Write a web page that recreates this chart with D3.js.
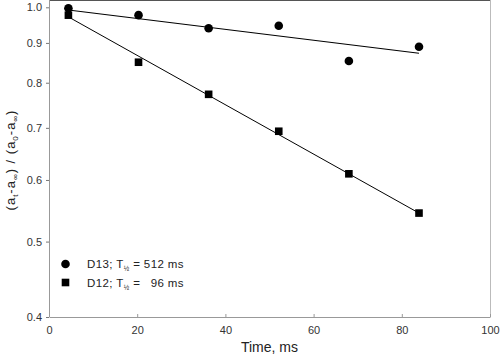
<!DOCTYPE html>
<html><head><meta charset="utf-8">
<script src="https://cdn.jsdelivr.net/npm/d3@7"></script>
<style>
html,body{margin:0;padding:0;background:#fff;}
svg{display:block;font-family:"Liberation Sans",Arial,sans-serif;}
</style></head>
<body>
<svg id="chart" width="500" height="355"></svg>
<script>
// Data
const times = [4.4, 20.3, 36.2, 52.1, 68.0, 83.9];
const d13 = [0.997, 0.977, 0.940, 0.947, 0.853, 0.890];
const d12 = [0.977, 0.850, 0.773, 0.693, 0.611, 0.544];
const fitTimes = [4.4, 83.9];
const d13Fit = [0.992, 0.873];
const d12Fit = [0.972, 0.544];
const xTicks = [0, 20, 40, 60, 80, 100];
const yTicks = [0.4, 0.5, 0.6, 0.7, 0.8, 0.9, 1.0];
const legendLabels = [
  {name: "D13; T", val: "512 ms"},
  {name: "D12; T", val: "96 ms"}
];

const svg = d3.select("#chart");
const L = 49, R = 490, T = 0, B = 317;
const x = d3.scaleLinear().domain([0, 100]).range([L, R]);
const y = d3.scaleLog().domain([0.4, 1.0]).range([B, 7.3]);

// frame
svg.append("line").attr("x1", L).attr("x2", R).attr("y1", 0.5).attr("y2", 0.5).attr("stroke", "#555").attr("stroke-width", 1);
svg.append("line").attr("x1", R + 0.5).attr("x2", R + 0.5).attr("y1", 0).attr("y2", B).attr("stroke", "#bbb").attr("stroke-width", 1);

// x axis (ticks inside)
const xAxis = d3.axisBottom(x).tickValues(xTicks).tickFormat(d3.format("d")).tickSizeInner(-3).tickSizeOuter(0).tickPadding(9);
const gx = svg.append("g").attr("transform", `translate(0,${B})`).call(xAxis);
gx.select(".domain").attr("stroke", "#999");
gx.selectAll(".tick line").attr("stroke", "#999");
gx.selectAll("text").attr("font-size", 11).attr("fill", "#333").attr("font-family", "Liberation Sans, Arial, sans-serif");

// y axis (ticks outside)
const yAxis = d3.axisLeft(y).tickValues(yTicks).tickFormat(d3.format(".1f")).tickSizeInner(3).tickSizeOuter(0).tickPadding(4);
const gy = svg.append("g").attr("transform", `translate(${L},0)`).call(yAxis);
gy.select(".domain").attr("stroke", "#999").attr("d", `M0.5,0V${B}`);
gy.selectAll(".tick line").attr("stroke", "#777");
gy.selectAll("text").attr("font-size", 11).attr("fill", "#333").attr("font-family", "Liberation Sans, Arial, sans-serif");

// fit lines
const line = d3.line().x(d => x(d[0])).y(d => y(d[1]));
svg.append("path").datum(fitTimes.map((t, i) => [t, d13Fit[i]]))
  .attr("d", line).attr("fill", "none").attr("stroke", "#000").attr("stroke-width", 1.1);
svg.append("path").datum(fitTimes.map((t, i) => [t, d12Fit[i]]))
  .attr("d", line).attr("fill", "none").attr("stroke", "#000").attr("stroke-width", 1);

// markers
svg.append("g").selectAll("circle").data(times.map((t, i) => [t, d13[i]])).join("circle")
  .attr("cx", d => x(d[0])).attr("cy", d => y(d[1])).attr("r", 4.3).attr("fill", "#000");
const s = 7.6;
svg.append("g").selectAll("rect").data(times.map((t, i) => [t, d12[i]])).join("rect")
  .attr("x", d => x(d[0]) - s / 2).attr("y", d => y(d[1]) - s / 2).attr("width", s).attr("height", s).attr("fill", "#000");

// legend
const lg = svg.append("g");
lg.append("circle").attr("cx", 65.5).attr("cy", 264).attr("r", 4.3).attr("fill", "#000");
lg.append("rect").attr("x", 65.5 - s / 2).attr("y", 282.5 - s / 2).attr("width", s).attr("height", s).attr("fill", "#000");
let endX = 187;
legendLabels.forEach((lab, i) => {
  const by = 268 + i * 18.5;
  const t = lg.append("text").attr("x", 87).attr("y", by).attr("font-size", 11.5).attr("fill", "#222").attr("letter-spacing", 0.4);
  t.append("tspan").text(lab.name);
  t.append("tspan").attr("font-size", 6.5).attr("dy", 3).text("½");
  t.append("tspan").attr("dy", -3).text(" =");
  if (i === 0) {
    t.append("tspan").text(" " + lab.val);
    const bb = t.node().getBBox();
    endX = bb.x + bb.width;
  } else {
    lg.append("text").attr("x", endX).attr("y", by).attr("text-anchor", "end").attr("font-size", 11.5)
      .attr("letter-spacing", 0.4).attr("fill", "#222").text(lab.val);
  }
});

// axis titles
svg.append("text").attr("x", 269.5).attr("y", 352).attr("text-anchor", "middle")
  .attr("font-size", 14).attr("fill", "#222").text("Time, ms");

const yl = svg.append("text").attr("transform", "translate(15,160) rotate(-90)").attr("text-anchor", "middle")
  .attr("font-size", 13).attr("fill", "#222").attr("letter-spacing", 1);
yl.append("tspan").text("(a");
yl.append("tspan").attr("font-size", 8).attr("dy", 3).text("t");
yl.append("tspan").attr("dy", -3).text("-a");
yl.append("tspan").attr("font-size", 8).attr("dy", 3).text("∞");
yl.append("tspan").attr("dy", -3).text(") / (a");
yl.append("tspan").attr("font-size", 8).attr("dy", 3).text("0");
yl.append("tspan").attr("dy", -3).text("-a");
yl.append("tspan").attr("font-size", 8).attr("dy", 3).text("∞");
yl.append("tspan").attr("dy", -3).text(")");
</script>
</body></html>
